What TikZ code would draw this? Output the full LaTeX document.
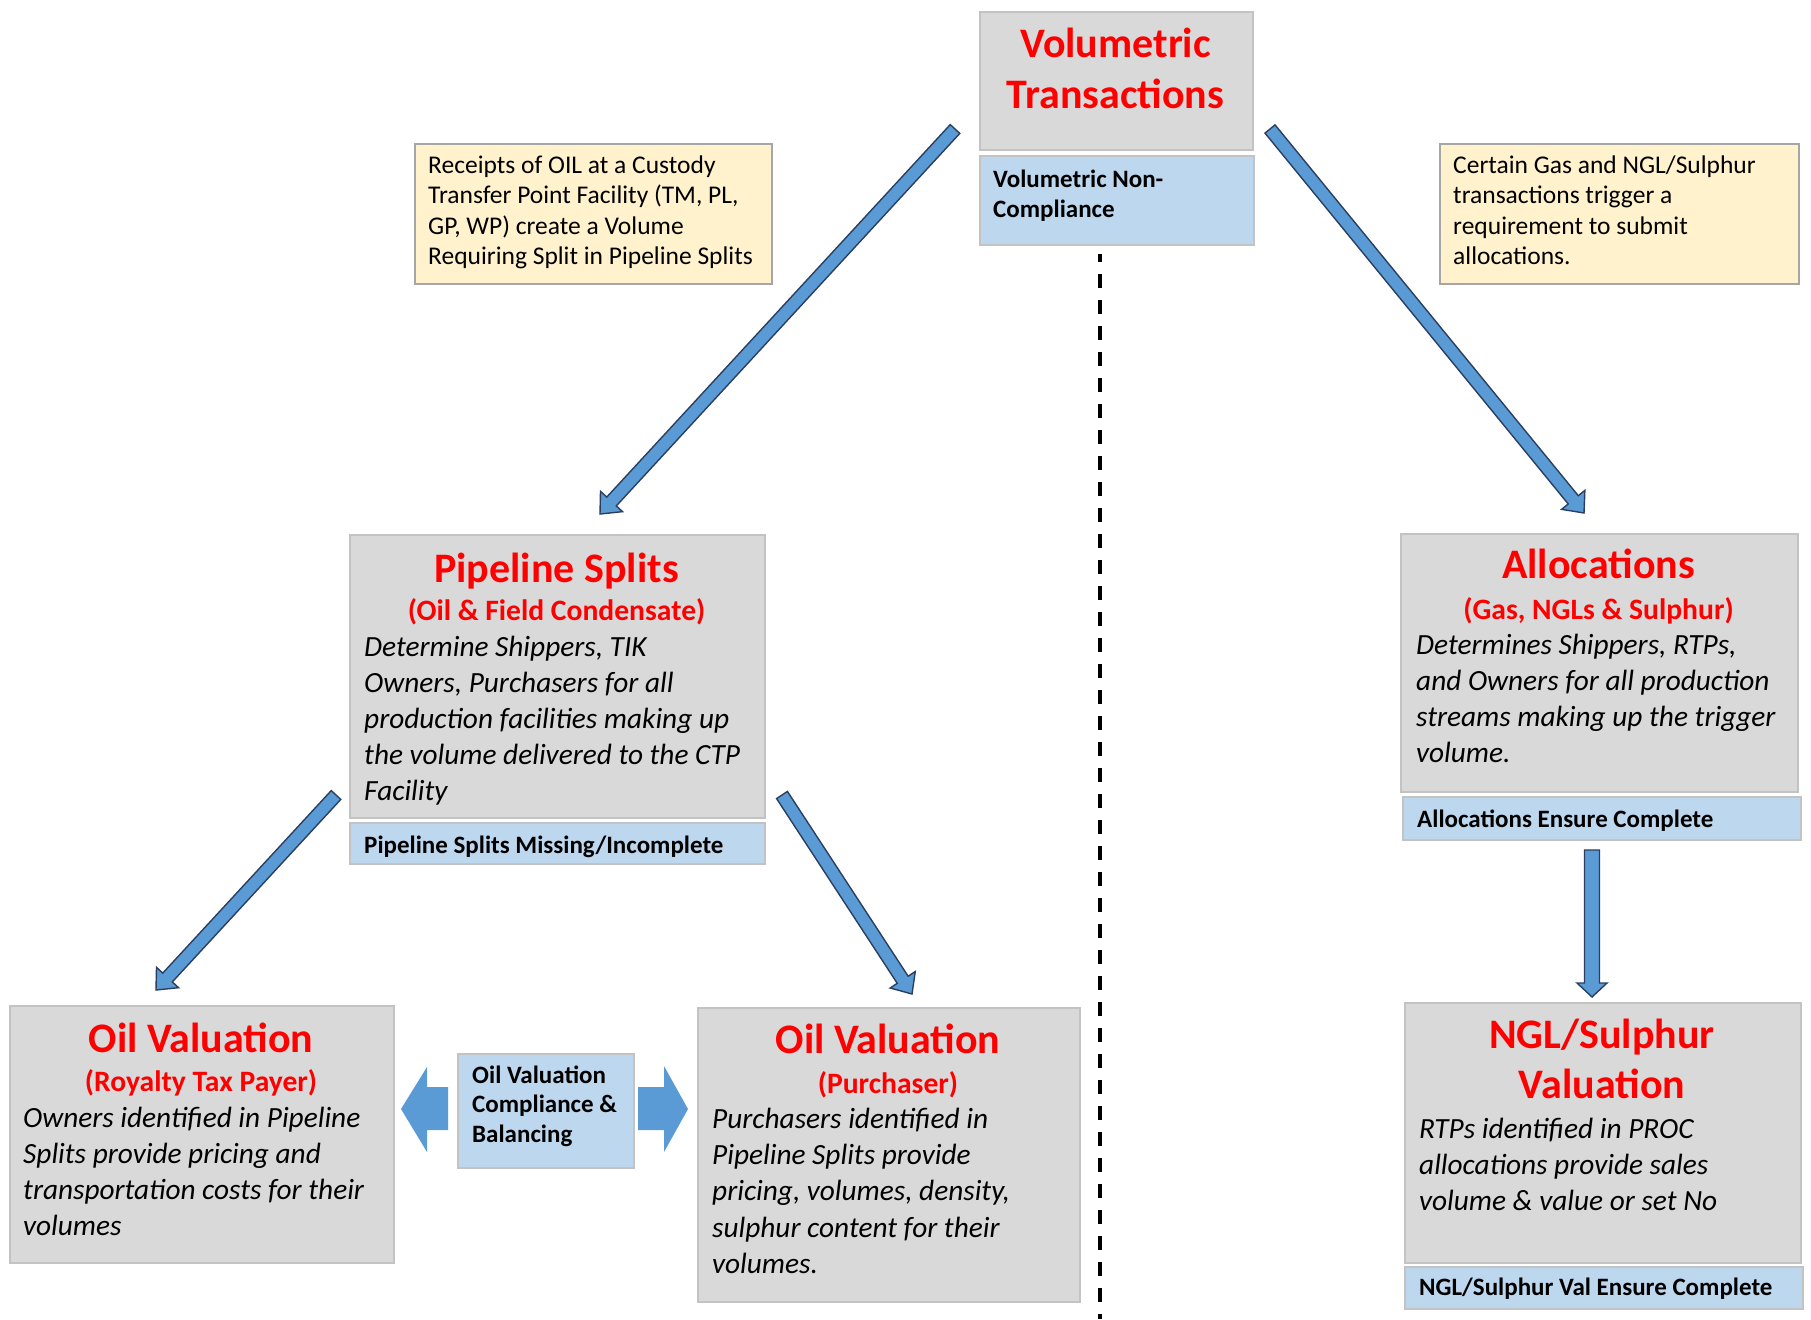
\documentclass[tikz,border=0pt]{standalone}
\usepackage{fontspec}
\setmainfont{Carlito}
\usetikzlibrary{calc}
\definecolor{boxgray}{HTML}{D9D9D9}
\definecolor{boxedge}{HTML}{C3C3C3}
\definecolor{boxblue}{HTML}{BDD7EE}
\definecolor{boxyellow}{HTML}{FFF2CC}
\definecolor{arrowblue}{HTML}{5B9BD5}
\definecolor{arrowedge}{HTML}{2A3F5F}
\definecolor{titlered}{HTML}{FF0000}
\newcommand\rsTitle{\fontsize{42}{50}\selectfont\bfseries}
\newcommand\rsSub{\fontsize{29.6}{32}\selectfont\bfseries}
\newcommand\rsBody{\fontsize{29.3}{36}\selectfont\itshape}
\newcommand\rsNote{\fontsize{25.5}{30.5}\selectfont}
\newcommand\rsBlue{\fontsize{25}{30}\selectfont\bfseries}
\newcommand\myarrow[5]{%
  \coordinate (#1h) at ($(#2)!#5!(#1)$);
  \draw[blockarrow] ($(#1)!#3!90:(#2)$) -- ($(#1h)!#3!90:(#2)$) -- ($(#1h)!#4!90:(#2)$) -- (#2)
    -- ($(#1h)!#4!-90:(#2)$) -- ($(#1h)!#3!-90:(#2)$) -- ($(#1)!#3!-90:(#2)$) -- cycle;}
\begin{document}
\begin{tikzpicture}[x=1pt,y=-1pt,
  graybox/.style={draw=boxedge, line width=2, fill=boxgray, anchor=north west, inner sep=0},
  bluebox/.style={draw=boxedge, line width=2, fill=boxblue, anchor=north west, inner sep=0},
  notebox/.style={draw=boxedge!85!black, line width=1.5, fill=boxyellow, anchor=north west, inner sep=0},
  ttl/.style={font=\rsTitle, text=titlered, inner sep=0, anchor=base},
  ttl2/.style={font=\rsTitle, text=titlered, inner sep=0, anchor=north, align=center},
  sub/.style={font=\rsSub, text=titlered, inner sep=0, anchor=base},
  body/.style={font=\rsBody, inner sep=0, anchor=north west, align=left},
  note/.style={font=\rsNote, inner sep=0, anchor=north west, align=left},
  bluetxt/.style={font=\rsBlue, inner sep=0, anchor=north west, align=left},
  bluetxt1/.style={font=\rsBlue, inner sep=0, anchor=base west},
  blockarrow/.style={fill=arrowblue, draw=arrowedge, line width=1.4, line join=miter},
  fatarrow/.style={fill=arrowblue, draw=none},
  dashline/.style={line width=4, dash pattern=on 14pt off 12pt, dash phase=6pt}
]
\useasboundingbox (0,0) rectangle (1811,1319);

% boxes
\node[graybox, minimum width=273, minimum height=138] (vt) at (979,11) {};
\node[bluebox, minimum width=274, minimum height=89] (vtb) at (979,155) {};
\node[notebox, minimum width=357, minimum height=140] (yl) at (414,143) {};
\node[notebox, minimum width=359, minimum height=140] (yr) at (1439,143) {};
\node[graybox, minimum width=415, minimum height=283] (ps) at (349,534) {};
\node[bluebox, minimum width=415, minimum height=41] (psb) at (349,822) {};
\node[graybox, minimum width=384, minimum height=257] (ovl) at (9,1005) {};
\node[bluebox, minimum width=176, minimum height=114] (ovc) at (457,1053) {};
\node[graybox, minimum width=382, minimum height=294] (ovr) at (697,1007) {};
\node[graybox, minimum width=397, minimum height=258] (al) at (1400,533) {};
\node[bluebox, minimum width=398, minimum height=43] (alb) at (1402,796) {};
\node[graybox, minimum width=396, minimum height=260] (ngl) at (1404,1002) {};
\node[bluebox, minimum width=398, minimum height=42] (nglb) at (1404,1266) {};

% texts
\node[ttl2, font=\fontsize{42}{51}\selectfont\bfseries] (vtt) at (1115.5,21.3) {\strut Volumetric\\Transactions};
\node[bluetxt] (vtbt) at (993,166) {\strut Volumetric Non-\\Compliance};
\node[note] (ylt) at (428,151.6) {\strut Receipts of OIL at a Custody\\Transfer Point Facility (TM, PL,\\GP, WP) create a Volume\\Requiring Split in Pipeline Splits};
\node[note] (yrt) at (1453,151.6) {\strut Certain Gas and NGL/Sulphur\\transactions trigger a\\requirement to submit\\allocations.};

\node[ttl] (pst) at (556.5,582) {Pipeline Splits};
\node[sub] (pss) at (556.5,620.5) {(Oil \& Field Condensate)};
\node[body] (psx) at (364,630.8) {\strut Determine Shippers, TIK\\Owners, Purchasers for all\\production facilities making up\\the volume delivered to the CTP\\Facility};
\node[bluetxt1] (psbt) at (364,853) {Pipeline Splits Missing/Incomplete};

\node[ttl] (ovlt) at (201,1052) {Oil Valuation};
\node[sub] (ovls) at (201,1091.5) {(Royalty Tax Payer)};
\node[body] (ovlx) at (23,1102.3) {\strut Owners identified in Pipeline\\Splits provide pricing and\\transportation costs for their\\volumes};

\node[bluetxt, font=\fontsize{25}{29.5}\selectfont\bfseries] (ovct) at (472,1062.35) {\strut Oil Valuation\\Compliance \&\\Balancing};

\node[ttl] (ovrt) at (888,1053) {Oil Valuation};
\node[sub] (ovrs) at (888,1093.5) {(Purchaser)};
\node[body, font=\fontsize{29.3}{36.4}\selectfont\itshape] (ovrx) at (712,1102.5) {\strut Purchasers identified in\\Pipeline Splits provide\\pricing, volumes, density,\\sulphur content for their\\volumes.};

\node[ttl] (alt) at (1598.5,578) {Allocations};
\node[sub] (als) at (1598.5,619.5) {(Gas, NGLs \& Sulphur)};
\node[body, font=\fontsize{29.3}{36.2}\selectfont\itshape] (alx) at (1416,628.5) {\strut Determines Shippers, RTPs,\\and Owners for all production\\streams making up the trigger\\volume.};
\node[bluetxt1] (albt) at (1417,827) {Allocations Ensure Complete};

\node[ttl2] (nglt) at (1602,1013) {\strut NGL/Sulphur\\Valuation};
\node[body] (nglx) at (1419,1113.5) {\strut RTPs identified in PROC\\allocations provide sales\\volume \& value or set No};
\node[bluetxt1] (nglbt) at (1419,1295) {NGL/Sulphur Val Ensure Complete};

% dashed divider
\coordinate (dtop) at (1100,254);
\coordinate (dbot) at (1100,1319);
\draw[dashline] (dtop) -- (dbot);

% block arrows
\coordinate (a1s) at (955,129); \coordinate (a1e) at (600,514);
\myarrow{a1s}{a1e}{6.5pt}{15pt}{17pt}
\coordinate (a2s) at (1270,129); \coordinate (a2e) at (1584,513);
\myarrow{a2s}{a2e}{6.5pt}{15pt}{17pt}
\coordinate (a3s) at (336,795); \coordinate (a3e) at (156,990);
\myarrow{a3s}{a3e}{6.5pt}{15pt}{17pt}
\coordinate (a4s) at (782,795); \coordinate (a4e) at (912,994);
\myarrow{a4s}{a4e}{6.5pt}{15pt}{17pt}
\coordinate (a5s) at (1592,850); \coordinate (a5e) at (1592,997);
\myarrow{a5s}{a5e}{7.5pt}{15pt}{14pt}

% fat side arrows from the compliance box
\coordinate (lt) at (401,1109);
\coordinate (rt) at (688,1109);
\draw[fatarrow] (448,1087) -- (427,1087) -- (427,1067) -- (lt) -- (427,1152) -- (427,1130) -- (448,1130) -- cycle;
\draw[fatarrow] (638,1087) -- (664,1087) -- (664,1066) -- (rt) -- (664,1152) -- (664,1130) -- (638,1130) -- cycle;
\end{tikzpicture}
\end{document}
